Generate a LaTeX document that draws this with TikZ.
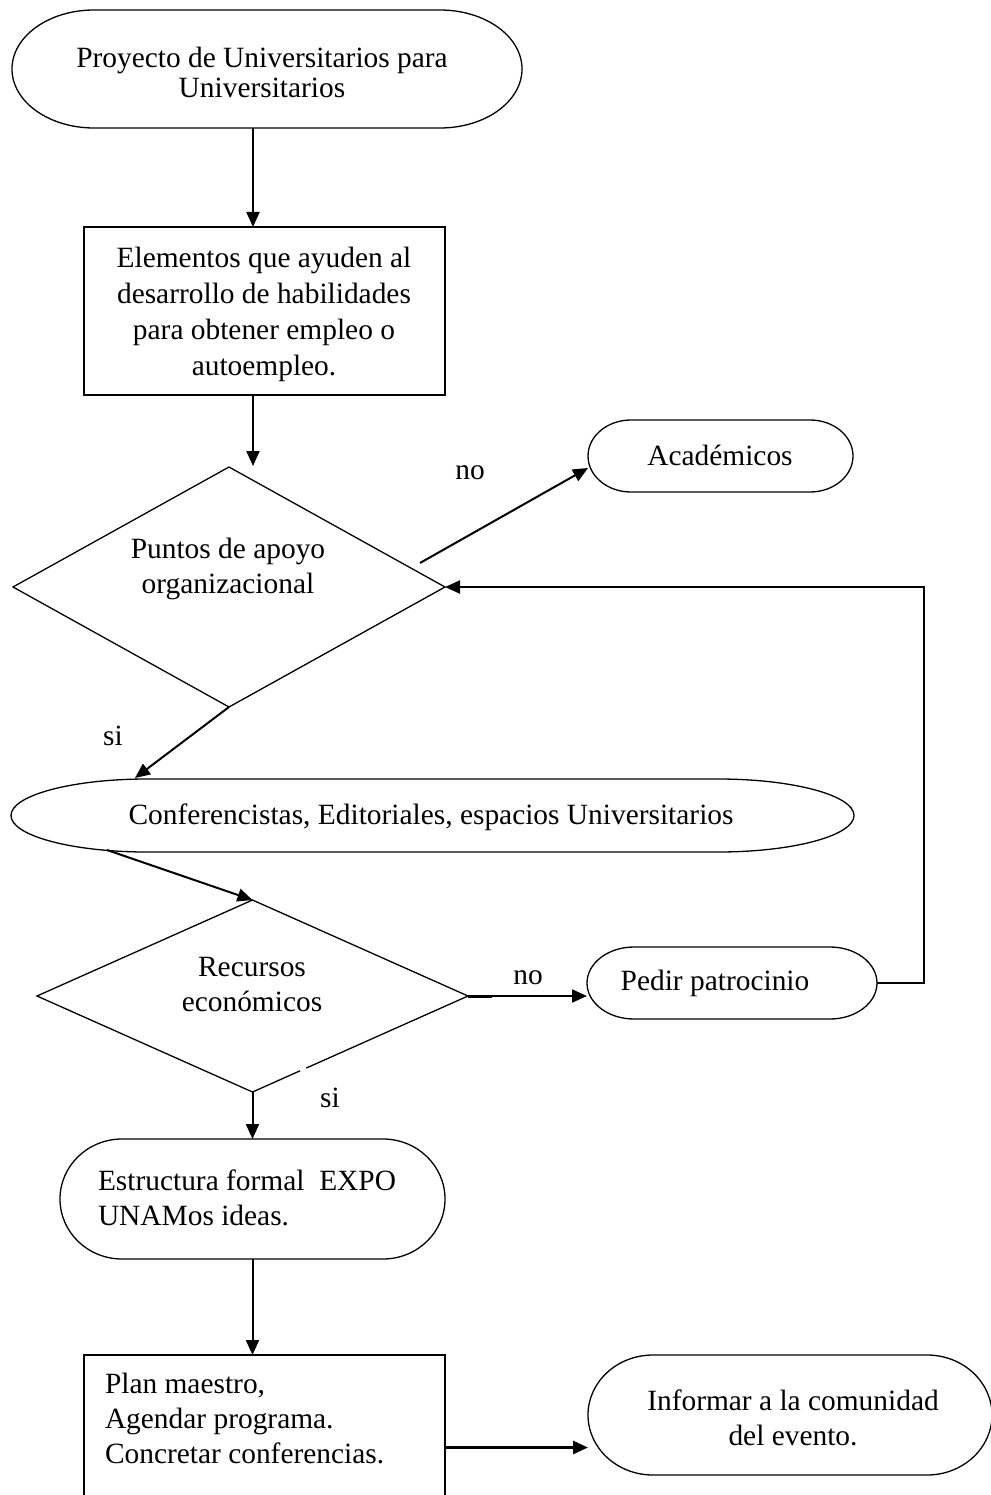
\documentclass[tikz,border=0pt]{standalone}
\usepackage{fontspec}
\setmainfont{Liberation Serif}
\usetikzlibrary{arrows.meta,shapes.geometric}
\newcommand{\termshape}[3]{%
  \draw[shapeline] ([xshift=#2pt]#1.north west) -- ([xshift=-#2pt]#1.north east)
    arc[start angle=90,end angle=-90,x radius=#2pt,y radius=#3pt]
    -- ([xshift=#2pt]#1.south west)
    arc[start angle=270,end angle=90,x radius=#2pt,y radius=#3pt] -- cycle;}
\begin{document}
\begin{tikzpicture}[x=1pt,y=-1pt,
  every node/.style={inner sep=0pt, outer sep=0pt},
  shapeline/.style={line width=1.3pt},
  conn/.style={line width=2pt, -{Triangle[length=15pt,width=13pt]}},
  termbox/.style={rectangle, minimum width=#1},
  boxnode/.style={draw, rectangle, line width=1.3pt},
  dia/.style={draw, diamond, line width=1.3pt},
  txt/.style={align=center, font=\fontsize{29.4}{35}\selectfont},
  ltxt/.style={align=left, font=\fontsize{29.4}{35}\selectfont},
  lbl/.style={font=\fontsize{29.4}{35}\selectfont}]
\useasboundingbox (0,0) rectangle (990,1495);

% shapes
\node[termbox=510pt, minimum height=118pt] (start) at (267,69) {};
\termshape{start}{82}{59}
\node[txt, font=\fontsize{29.4}{30}\selectfont] (startT) at (262,72) {Proyecto de Universitarios para\\Universitarios};

\node[boxnode, minimum width=361pt, minimum height=168pt] (elem) at (264.5,311) {};
\node[txt, font=\fontsize{29.4}{36}\selectfont] (elemT) at (264,314) {Elementos que ayuden al\\desarrollo de habilidades\\para obtener empleo o\\autoempleo.};

\node[dia, minimum width=432pt, minimum height=240pt] (d1) at (229,587) {};
\node[txt] (d1T) at (228,569) {Puntos de apoyo\\organizacional};

\node[termbox=265pt, minimum height=72pt] (acad) at (720.5,456) {};
\termshape{acad}{43}{36}
\node[txt] (acadT) at (720,455) {Académicos};

\node[termbox=843pt, minimum height=73pt] (conf) at (432.5,815.5) {};
\termshape{conf}{136}{36.5}
\node[txt] (confT) at (431,817) {Conferencistas, Editoriales, espacios Universitarios};

\node[dia, minimum width=431pt, minimum height=192pt] (d2) at (252.5,996) {};
\node[txt] (d2T) at (252,985) {Recursos\\económicos};

\node[termbox=290pt, minimum height=72pt] (pedir) at (732,983) {};
\termshape{pedir}{47}{36}
\node[txt] (pedirT) at (715,983) {Pedir patrocinio};

\node[termbox=385pt, minimum height=120pt] (estr) at (252.5,1199) {};
\termshape{estr}{62}{60}
\node[ltxt, anchor=west] (estrT) at (98,1198) {Estructura formal\ \ EXPO\\UNAMos ideas.};

\node[boxnode, minimum width=361pt, minimum height=165pt] (plan) at (264.5,1437.5) {};
\node[ltxt, anchor=west] (planT) at (105,1418) {Plan maestro,\\Agendar programa.\\Concretar conferencias.};

\node[termbox=404pt, minimum height=120pt] (info) at (790,1415) {};
\termshape{info}{65}{60}
\node[txt] (infoT) at (793,1417.5) {Informar a la comunidad\\del evento.};

% labels
\node[lbl] (no1) at (470,473) {no};
\node[lbl] (si1) at (113,736) {si};
\node[lbl] (no2) at (528,978) {no};
\node[lbl] (si2) at (330,1098) {si};

% artefacts of the original
\draw[white, line width=3pt] (306,1067.6) -- (300,1070.4);
\draw[line width=3pt] (d2.east) -- ++(24,0);

% connectors
\coordinate (d1in) at (253,466);
\coordinate (noStart) at (420,563);
\coordinate (confIn) at (135,778);
\coordinate (confOut) at (107,850);

\draw[conn] ([xshift=-14pt]start.south) -- ([xshift=-14pt]start.south |- elem.north);
\draw[conn] (elem.south -| d1in) -- (d1in);
\draw[conn] (noStart) -- ([yshift=-12pt]acad.west);
\draw[conn] (d1.south) -- (confIn);
\draw[conn] (confOut) -- (d2.north);
\draw[conn] (d2.east) -- (pedir.west |- d2.east);
\draw[conn] (pedir.east) -- ++(47,0) |- (d1.east);
\draw[conn] (d2.south) -- (estr.north);
\draw[conn] (estr.south) -- (estr.south |- plan.north);
\draw[conn, line width=2.8pt] ([yshift=-10pt]plan.east) -- ([yshift=-10pt]plan.east -| info.west);
\end{tikzpicture}
\end{document}
